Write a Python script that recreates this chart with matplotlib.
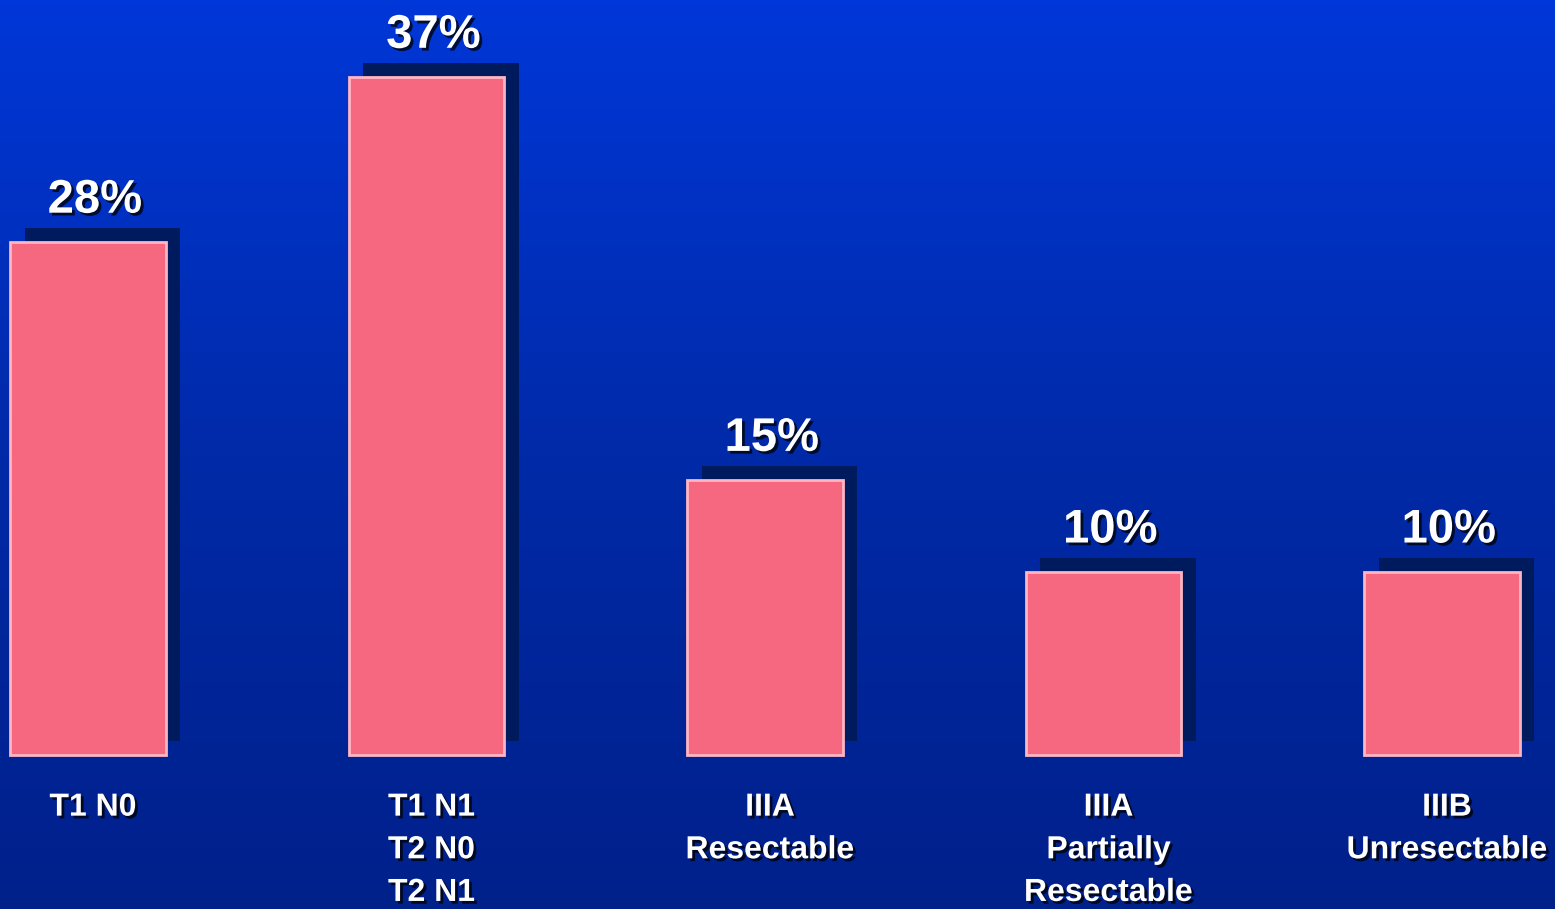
import numpy as np
import matplotlib
matplotlib.use("Agg")
from matplotlib import pyplot as plt
from matplotlib import patheffects as pe
from matplotlib.colors import LinearSegmentedColormap
from matplotlib.transforms import blended_transform_factory

stages = ["T1 N0", "T1 N1\nT2 N0\nT2 N1", "IIIA\nResectable",
          "IIIA\nPartially\nResectable", "IIIB\nUnresectable"]
share = [28, 37, 15, 10, 10]  # percent of patients

plt.rcParams['font.family'] = ['Liberation Sans', 'DejaVu Sans']
plt.rcParams['font.weight'] = 'bold'

fig = plt.figure(figsize=(15.55, 9.09), dpi=100)

# blue slide background, lighter at the top
bg = fig.add_axes([0, 0, 1, 1])
bg.set_axis_off()
grad = LinearSegmentedColormap.from_list("slide", ["#00208a", "#002aa8", "#0037d8"])
bg.imshow(np.linspace(0, 1, 256).reshape(-1, 1), aspect='auto', cmap=grad,
          origin='lower', extent=[0, 1, 0, 1])

ax = fig.add_axes([0, 0, 1, 1])
ax.set_axis_off()
ax.patch.set_alpha(0)
ax.set_xlim(-0.26, 4.334)
ax.set_ylim(-8.41, 41.2)

x = np.arange(len(stages))
shadow = [pe.SimplePatchShadow(offset=(10.5, 10), shadow_rgbFace='#001a5e', alpha=1.0),
          pe.Normal()]
bars = ax.bar(x, share, width=0.46, color='#f5687f', edgecolor='#ffb6c4',
              linewidth=2)
for b in bars:
    b.set_path_effects(shadow)

txt_shadow = [pe.withSimplePatchShadow(offset=(2, -2), shadow_rgbFace='black', alpha=0.75)]

for xi, v in zip(x, share):
    ax.annotate("%d%%" % v, (xi, v), xytext=(5, 21), textcoords='offset points',
                ha='center', va='baseline', fontsize=34, color='white',
                fontweight='bold', path_effects=txt_shadow)

tr = blended_transform_factory(ax.transData, ax.transAxes)
for xi, lab in zip(x, stages):
    ax.text(xi + 0.015, 0.128, lab, transform=tr, ha='center', va='top',
            fontsize=23, color='white', fontweight='bold', linespacing=1.55,
            path_effects=txt_shadow)

fig.savefig("out.png", dpi=100)
